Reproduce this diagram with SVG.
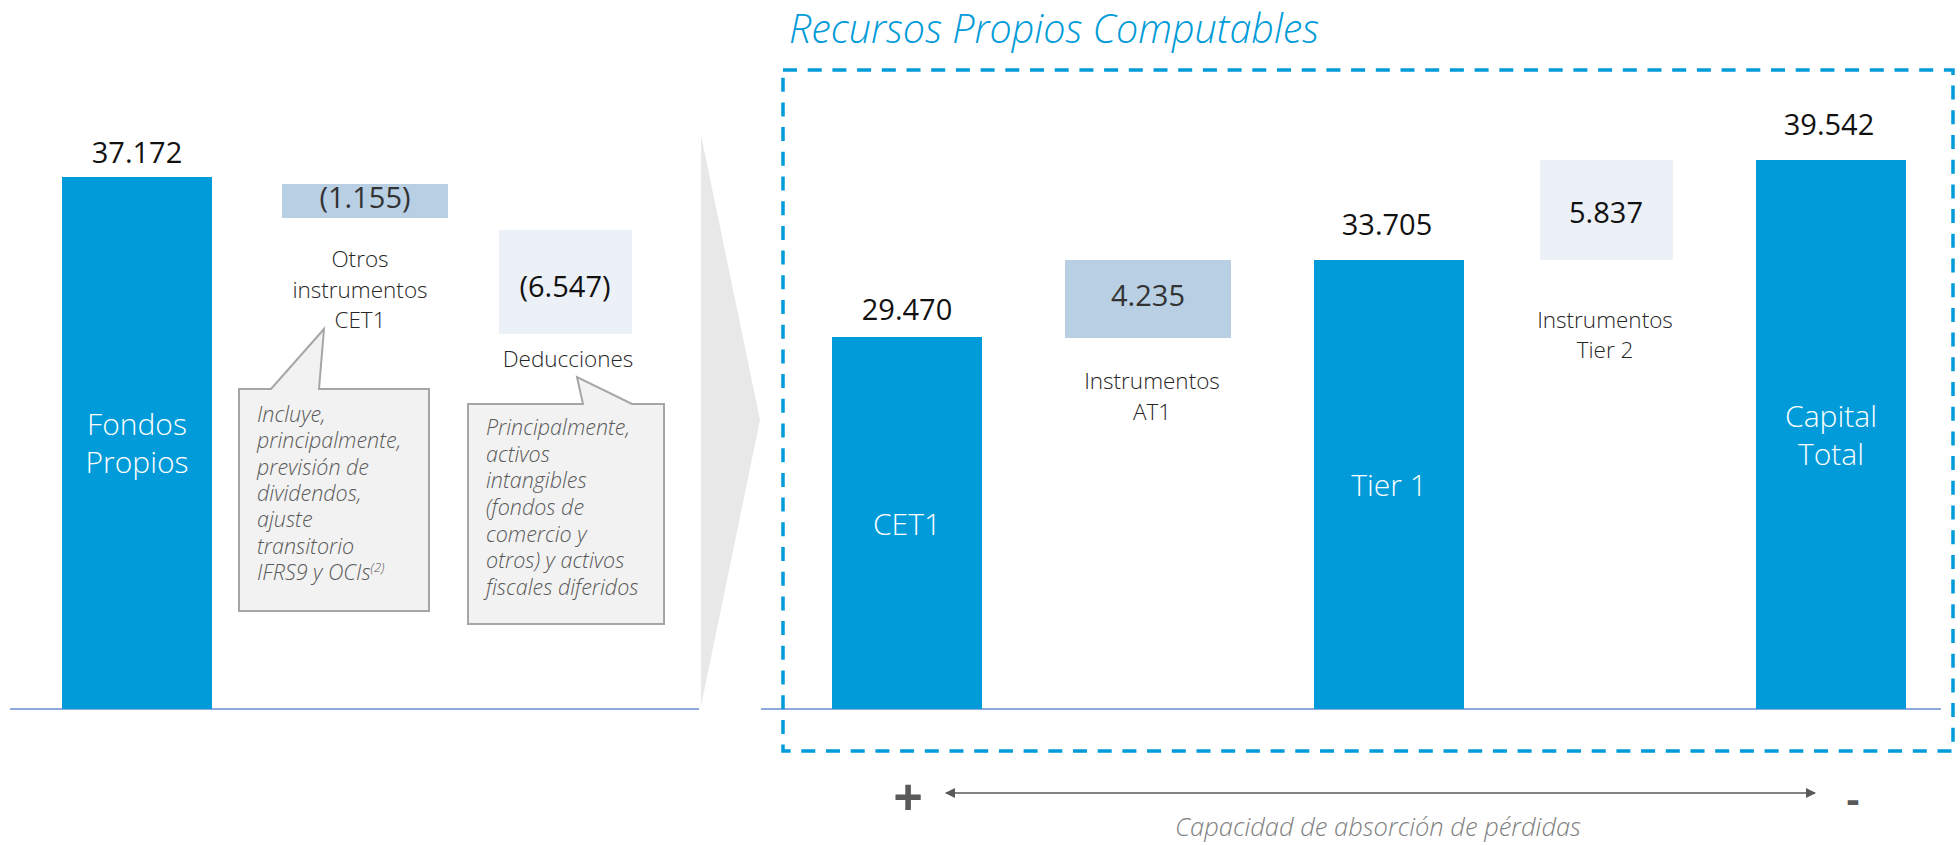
<svg xmlns="http://www.w3.org/2000/svg" width="1960" height="845" viewBox="0 0 1960 845">
<defs>
<style>
.bar{fill:#009BD8}
.lbox{fill:#B8CFE4}
.pbox{fill:#ECF0F7}
.val{font-family:'Open Sans','Noto Sans',sans-serif;font-size:29px;fill:#111;text-anchor:middle}
.dval{font-family:'Open Sans','Noto Sans',sans-serif;font-size:29px;fill:#333;text-anchor:middle}
.bl{font-family:'Open Sans','Noto Sans',sans-serif;font-size:30px;font-weight:300;fill:#fff;text-anchor:middle}
.lab{font-family:'Open Sans','Noto Sans',sans-serif;font-size:22.5px;font-weight:300;fill:#262626;text-anchor:middle}
.note{font-family:'Open Sans','Noto Sans',sans-serif;font-size:21.5px;font-style:italic;font-weight:300;fill:#595959}
.call{fill:#F2F2F2;stroke:#A6A6A6;stroke-width:2}
.base{stroke:#8EA9DB;stroke-width:2}
</style>
<marker id="ah" viewBox="0 0 10 10" refX="9" refY="5" markerWidth="10" markerHeight="10" markerUnits="userSpaceOnUse" orient="auto-start-reverse">
<path d="M0,0 L10,5 L0,10 Z" fill="#595959"/>
</marker>
</defs>
<rect width="1960" height="845" fill="#fff"/>

<g id="chevron"><polygon points="701,135 760,420 701,706" fill="#E8E8E8"/></g>

<g id="baseline">
<line class="base" x1="10" y1="709" x2="699" y2="709"/>
<line class="base" x1="761" y1="709" x2="1941" y2="709"/>
</g>

<g id="fondos-propios">
<rect class="bar" x="62" y="177" width="150" height="532"/>
<text class="val" x="137" y="163">37.172</text>
<text class="bl" x="137" y="435">Fondos</text>
<text class="bl" x="137" y="473">Propios</text>
</g>

<g id="otros-cet1">
<rect class="lbox" x="282" y="184" width="166" height="34"/>
<text class="dval" x="365" y="208">(1.155)</text>
<text class="lab" x="360" y="267">Otros</text>
<text class="lab" x="360" y="298">instrumentos</text>
<text class="lab" x="360" y="328">CET1</text>
</g>

<g id="callout-otros">
<path class="call" d="M239,389 H271 L324,329 L319,389 H429 V611 H239 Z"/>
<text class="note" x="257" y="422">Incluye,</text>
<text class="note" x="257" y="448">principalmente,</text>
<text class="note" x="257" y="475">previsión de</text>
<text class="note" x="257" y="501">dividendos,</text>
<text class="note" x="257" y="527">ajuste</text>
<text class="note" x="257" y="554">transitorio</text>
<text class="note" x="257" y="580">IFRS9 y OCIs<tspan font-size="13" dy="-8">(2)</tspan></text>
</g>

<g id="deducciones">
<rect class="pbox" x="499" y="230" width="133" height="104"/>
<text class="val" x="565" y="297">(6.547)</text>
<text class="lab" x="568" y="367">Deducciones</text>
</g>

<g id="callout-deducciones">
<path class="call" d="M468,404 H583 L577,377 L632,404 H664 V624 H468 Z"/>
<text class="note" x="486" y="435">Principalmente,</text>
<text class="note" x="486" y="462">activos</text>
<text class="note" x="486" y="488">intangibles</text>
<text class="note" x="486" y="515">(fondos de</text>
<text class="note" x="486" y="542">comercio y</text>
<text class="note" x="486" y="568">otros) y activos</text>
<text class="note" x="486" y="595">fiscales diferidos</text>
</g>

<g id="rpc">
<text x="789" y="43" font-family="'Open Sans','Noto Sans',sans-serif" font-size="39.5" font-style="italic" font-weight="300" fill="#009BD8">Recursos Propios Computables</text>
<rect x="783" y="70" width="1170" height="681" fill="none" stroke="#009BD8" stroke-width="3.5" stroke-dasharray="14 10.7"/>
</g>

<g id="cet1">
<rect class="bar" x="832" y="337" width="150" height="372"/>
<text class="val" x="907" y="320">29.470</text>
<text class="bl" x="907" y="535">CET1</text>
</g>

<g id="at1">
<rect class="lbox" x="1065" y="260" width="166" height="78"/>
<text class="dval" x="1148" y="306">4.235</text>
<text class="lab" x="1152" y="389">Instrumentos</text>
<text class="lab" x="1152" y="420">AT1</text>
</g>

<g id="tier1">
<rect class="bar" x="1314" y="260" width="150" height="449"/>
<text class="val" x="1387" y="235">33.705</text>
<text class="bl" x="1389" y="496">Tier 1</text>
</g>

<g id="tier2">
<rect class="pbox" x="1540" y="160" width="133" height="100"/>
<text class="val" x="1606" y="223">5.837</text>
<text class="lab" x="1605" y="328">Instrumentos</text>
<text class="lab" x="1605" y="358">Tier 2</text>
</g>

<g id="capital-total">
<rect class="bar" x="1756" y="160" width="150" height="549"/>
<text class="val" x="1829" y="135">39.542</text>
<text class="bl" x="1831" y="427">Capital</text>
<text class="bl" x="1831" y="465">Total</text>
</g>

<g id="connectors">
<line x1="946" y1="793" x2="1815" y2="793" stroke="#595959" stroke-width="1.5" marker-start="url(#ah)" marker-end="url(#ah)"/>
</g>

<g id="absorcion">
<text x="908" y="816" font-family="'Open Sans','Noto Sans',sans-serif" font-size="52" font-weight="700" fill="#595959" text-anchor="middle">+</text>
<text x="1853" y="813" font-family="'Open Sans','Noto Sans',sans-serif" font-size="40" font-weight="700" fill="#595959" text-anchor="middle">-</text>
<text x="1378" y="836" font-family="'Open Sans','Noto Sans',sans-serif" font-size="25.5" font-style="italic" font-weight="300" fill="#808080" text-anchor="middle">Capacidad de absorción de pérdidas</text>
</g>
</svg>
